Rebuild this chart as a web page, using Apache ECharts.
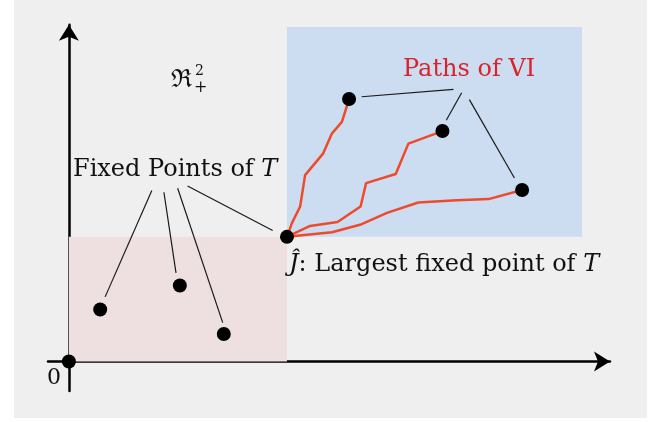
<!DOCTYPE html>
<html>
<head>
<meta charset="utf-8">
<script src="https://cdn.jsdelivr.net/npm/echarts@6/dist/echarts.min.js"></script>
<style>
  html, body { margin: 0; padding: 0; background: #fff; }
  #main { width: 665px; height: 422px; }
</style>
</head>
<body>
<div id="main"></div>
<script>
  // points (axis units, origin at 0,0)
  var origin = [0, 0];
  var jHat = [3.97, 2.18];
  var fixedPts = [[0.57, 0.91], [2.02, 1.33], [2.82, 0.48]];
  var viEnds = [[5.10, 4.59], [6.80, 4.03], [8.25, 3.00]];

  // value iteration paths, all starting from jHat
  var path1 = [[3.97, 2.18], [4.06, 2.42], [4.21, 2.71], [4.30, 3.26], [4.63, 3.64], [4.79, 3.99], [4.97, 4.19], [5.10, 4.59]];
  var path2 = [[3.97, 2.18], [4.39, 2.37], [4.89, 2.44], [5.31, 2.71], [5.41, 3.12], [5.95, 3.28], [6.18, 3.81], [6.80, 4.03]];
  var path3 = [[3.97, 2.18], [4.79, 2.26], [5.30, 2.39], [5.79, 2.60], [6.36, 2.78], [7.06, 2.82], [7.64, 2.84], [8.25, 3.00]];

  // leader lines from the labels
  var fixedLeaders = [
    [[1.51, 2.99], [0.66, 1.13]],
    [[1.73, 2.96], [1.95, 1.55]],
    [[1.98, 3.03], [2.80, 0.68]],
    [[2.16, 3.07], [3.71, 2.29]]
  ];
  var viLeaders = [
    [[5.33, 4.63], [7.00, 4.76]],
    [[7.15, 4.70], [6.87, 4.22]],
    [[7.29, 4.58], [8.11, 3.21]]
  ];

  // shaded boxes
  var lowerBox = [[0, 0], [3.97, 2.18]];
  var upperBox = [[3.97, 2.18], [9.34, 5.85]];

  var myChart = echarts.init(document.getElementById('main'));

  var series = [];
  series.push({
    type: 'line',
    data: [],
    z: 1,
    markArea: {
      silent: true,
      data: [
        [{coord: lowerBox[0], itemStyle: {color: '#eee0e0'}}, {coord: lowerBox[1]}],
        [{coord: upperBox[0], itemStyle: {color: '#ccdcf1'}}, {coord: upperBox[1]}]
      ]
    }
  });
  [path1, path2, path3].forEach(function (p) {
    series.push({
      type: 'line',
      data: p,
      symbol: 'none',
      z: 3,
      lineStyle: {color: '#ee4a2c', width: 2.5}
    });
  });
  fixedLeaders.concat(viLeaders).forEach(function (l) {
    series.push({
      type: 'line',
      data: l,
      symbol: 'none',
      z: 3,
      lineStyle: {color: '#1a1a1a', width: 1.2}
    });
  });
  series.push({
    type: 'scatter',
    data: [origin, jHat].concat(fixedPts, viEnds),
    symbolSize: 14,
    z: 5,
    itemStyle: {color: '#000', opacity: 1}
  });

  var serif = '"DejaVu Serif", serif';

  var option = {
    backgroundColor: '#fff',
    animation: false,
    grid: {left: 48, right: 55, top: 24.7, bottom: 31},
    xAxis: {
      type: 'value',
      min: -0.38,
      max: 9.85,
      axisLine: {
        onZero: true,
        symbol: ['none', 'arrow'],
        symbolSize: [15, 16],
        lineStyle: {color: '#000', width: 2.5}
      },
      axisTick: {show: false},
      axisLabel: {show: false},
      splitLine: {show: false}
    },
    yAxis: {
      type: 'value',
      min: -0.516,
      max: 5.89,
      axisLine: {
        onZero: true,
        symbol: ['none', 'arrow'],
        symbolSize: [15, 16],
        lineStyle: {color: '#000', width: 2.5}
      },
      axisTick: {show: false},
      axisLabel: {show: false},
      splitLine: {show: false}
    },
    graphic: [
      {
        type: 'rect',
        z: -10,
        silent: true,
        shape: {x: 14, y: 0, width: 633, height: 418},
        style: {fill: '#efefef'}
      },
      {
        type: 'text',
        z: 100,
        left: 73, top: 158,
        style: {
          text: '{n|Fixed Points of }{i|T}',
          rich: {
            n: {font: '24px ' + serif, fill: '#111'},
            i: {font: 'italic 24px ' + serif, fill: '#111'}
          }
        }
      },
      {
        type: 'text',
        z: 100,
        left: 403, top: 58,
        style: {text: 'Paths of VI', font: '24px ' + serif, fill: '#d8232a'}
      },
      {
        type: 'text',
        z: 100,
        left: 289, top: 253,
        style: {
          text: '{i|Ĵ}{n|: Largest fixed point of }{i|T}',
          rich: {
            n: {font: '24px ' + serif, fill: '#111'},
            i: {font: 'italic 24px ' + serif, fill: '#111'}
          }
        }
      },
      {
        type: 'text',
        z: 100,
        left: 171, top: 68,
        style: {text: 'ℜ', font: '25px ' + serif, fill: '#111'}
      },
      {
        type: 'text',
        z: 100,
        left: 195, top: 64,
        style: {text: '2', font: '14px ' + serif, fill: '#111'}
      },
      {
        type: 'text',
        z: 100,
        left: 194, top: 80,
        style: {text: '+', font: '16px ' + serif, fill: '#111'}
      },
      {
        type: 'text',
        z: 100,
        left: 47, top: 367,
        style: {text: '0', font: '22px ' + serif, fill: '#111'}
      }
    ],
    series: series
  };

  myChart.setOption(option);
</script>
</body>
</html>
